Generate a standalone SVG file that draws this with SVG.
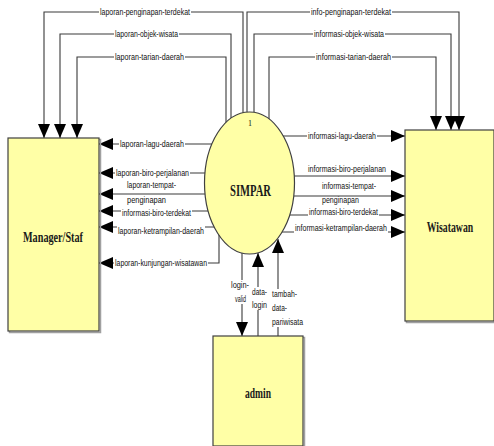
<svg xmlns="http://www.w3.org/2000/svg" width="494" height="446" viewBox="0 0 494 446">
<defs>
<marker id="ah" viewBox="0 0 14 12" markerUnits="userSpaceOnUse" markerWidth="14" markerHeight="12" refX="14" refY="6" orient="auto">
<path d="M0,0 L14,6 L0,12 z" fill="#000"/>
</marker>
<style>
.box{fill:#ffffa6;stroke:#404040;stroke-width:1.2}
.shadow{fill:none;stroke:#a0a0a0;stroke-width:1.5}
.ent{font-family:"Liberation Serif",serif;font-weight:bold;font-size:15px;fill:#1a1a1a;text-anchor:middle}
.c{fill:none;stroke:#3a3a3a;stroke-width:1.1;marker-end:url(#ah)}
.lb{font-family:"Liberation Sans",Arial,sans-serif;font-size:9px;fill:#111}
.bg{fill:#fff}
</style>
</defs>
<rect width="494" height="446" fill="#fff"/>
<g id="connectors">
<path class="c" d="M243,113 V12 H44 V138"/>
<path class="c" d="M231,118 V34 H60 V138"/>
<path class="c" d="M226,122.5 V57 H77 V138"/>
<path class="c" d="M247,112 V12 H459 V130"/>
<path class="c" d="M254,112.5 V34 H451 V130"/>
<path class="c" d="M269,119 V57 H436 V130"/>
<path class="c" d="M212,144 H99"/>
<path class="c" d="M205,173 H99"/>
<path class="c" d="M205,194 H99"/>
<path class="c" d="M208,211 H99"/>
<path class="c" d="M214,227 H99"/>
<path class="c" d="M219,235 V263 H99"/>
<path class="c" d="M283,136 H405"/>
<path class="c" d="M294,176 H405"/>
<path class="c" d="M294,196 H405"/>
<path class="c" d="M290,215 H405"/>
<path class="c" d="M282,232 H405"/>
<path class="c" d="M242,253 V336"/>
<path class="c" d="M258,336 V253"/>
<path class="c" d="M278,336 V239"/>
</g>
<g id="labels">
<rect class="bg" x="99" y="7" width="92" height="10"/>
<text class="lb" x="100" y="15" textLength="90" lengthAdjust="spacingAndGlyphs">laporan-penginapan-terdekat</text>
<rect class="bg" x="114" y="29" width="65" height="10"/>
<text class="lb" x="115" y="37" textLength="63" lengthAdjust="spacingAndGlyphs">laporan-objek-wisata</text>
<rect class="bg" x="114" y="52" width="71" height="10"/>
<text class="lb" x="115" y="60" textLength="69" lengthAdjust="spacingAndGlyphs">laporan-tarian-daerah</text>
<rect class="bg" x="310" y="7" width="82" height="10"/>
<text class="lb" x="311" y="15" textLength="80" lengthAdjust="spacingAndGlyphs">info-penginapan-terdekat</text>
<rect class="bg" x="313" y="29" width="72" height="10"/>
<text class="lb" x="314" y="37" textLength="70" lengthAdjust="spacingAndGlyphs">informasi-objek-wisata</text>
<rect class="bg" x="315" y="52" width="77" height="10"/>
<text class="lb" x="316" y="60" textLength="75" lengthAdjust="spacingAndGlyphs">informasi-tarian-daerah</text>
<rect class="bg" x="119" y="139" width="66" height="10"/>
<text class="lb" x="120" y="147" textLength="64" lengthAdjust="spacingAndGlyphs">laporan-lagu-daerah</text>
<rect class="bg" x="115" y="168" width="75" height="10"/>
<text class="lb" x="116" y="176" textLength="73" lengthAdjust="spacingAndGlyphs">laporan-biro-perjalanan</text>
<text class="lb" x="127" y="188" textLength="49" lengthAdjust="spacingAndGlyphs">laporan-tempat-</text>
<text class="lb" x="127" y="203" textLength="39" lengthAdjust="spacingAndGlyphs">penginapan</text>
<rect class="bg" x="121" y="208" width="71" height="10"/>
<text class="lb" x="122" y="216" textLength="69" lengthAdjust="spacingAndGlyphs">informasi-biro-terdekat</text>
<rect class="bg" x="117" y="226" width="88" height="10"/>
<text class="lb" x="118" y="234" textLength="86" lengthAdjust="spacingAndGlyphs">laporan-ketrampilan-daerah</text>
<rect class="bg" x="114" y="258" width="94" height="10"/>
<text class="lb" x="115" y="266" textLength="92" lengthAdjust="spacingAndGlyphs">laporan-kunjungan-wisatawan</text>
<rect class="bg" x="307" y="131" width="70" height="10"/>
<text class="lb" x="308" y="139" textLength="68" lengthAdjust="spacingAndGlyphs">informasi-lagu-daerah</text>
<text class="lb" x="308" y="172" textLength="78" lengthAdjust="spacingAndGlyphs">informasi-biro-perjalanan</text>
<text class="lb" x="322" y="189" textLength="54" lengthAdjust="spacingAndGlyphs">informasi-tempat-</text>
<text class="lb" x="322" y="203" textLength="37" lengthAdjust="spacingAndGlyphs">penginapan</text>
<rect class="bg" x="308" y="207" width="71" height="10"/>
<text class="lb" x="309" y="215" textLength="69" lengthAdjust="spacingAndGlyphs">informasi-biro-terdekat</text>
<rect class="bg" x="294" y="223" width="94" height="10"/>
<text class="lb" x="295" y="231" textLength="92" lengthAdjust="spacingAndGlyphs">informasi-ketrampilan-daerah</text>
<rect class="bg" x="230" y="280" width="20" height="24"/>
<text class="lb" x="231" y="288" textLength="18" lengthAdjust="spacingAndGlyphs">login-</text>
<text class="lb" x="235" y="302" textLength="11" lengthAdjust="spacingAndGlyphs">valid</text>
<rect class="bg" x="251" y="287" width="17" height="23"/>
<text class="lb" x="252" y="295" textLength="15" lengthAdjust="spacingAndGlyphs">data-</text>
<text class="lb" x="252" y="308" textLength="15" lengthAdjust="spacingAndGlyphs">login</text>
<rect class="bg" x="271" y="289" width="33" height="38"/>
<text class="lb" x="272" y="297" textLength="25" lengthAdjust="spacingAndGlyphs">tambah-</text>
<text class="lb" x="272" y="311" textLength="15" lengthAdjust="spacingAndGlyphs">data-</text>
<text class="lb" x="272" y="325" textLength="31" lengthAdjust="spacingAndGlyphs">pariwisata</text>
</g>
<g id="manager">
<rect class="shadow" x="9.5" y="139.5" width="91" height="193"/>
<rect class="box" x="8" y="138" width="91" height="193"/>
<text class="ent" x="53" y="242" textLength="60" lengthAdjust="spacingAndGlyphs">Manager/Staf</text>
</g>
<g id="wisatawan">
<rect class="shadow" x="406.5" y="131.5" width="88" height="191"/>
<rect class="box" x="405" y="130" width="89" height="191"/>
<text class="ent" transform="translate(450,232) scale(0.65,1)" x="0" y="0">Wisatawan</text>
</g>
<g id="admin">
<rect class="shadow" x="214.5" y="337.5" width="90" height="109"/>
<rect class="box" x="213" y="336" width="90" height="110"/>
<text class="ent" x="258" y="398" textLength="26" lengthAdjust="spacingAndGlyphs">admin</text>
</g>
<g id="simpar">
<ellipse cx="249.5" cy="183" rx="45" ry="71" fill="#ffffa6" stroke="#404040" stroke-width="1.2"/>
<text x="250" y="126" font-family="Liberation Serif,serif" font-size="8" text-anchor="middle" fill="#111">1</text>
<text class="ent" x="250.5" y="196" textLength="41" lengthAdjust="spacingAndGlyphs" style="font-size:17px">SIMPAR</text>
</g>
</svg>
